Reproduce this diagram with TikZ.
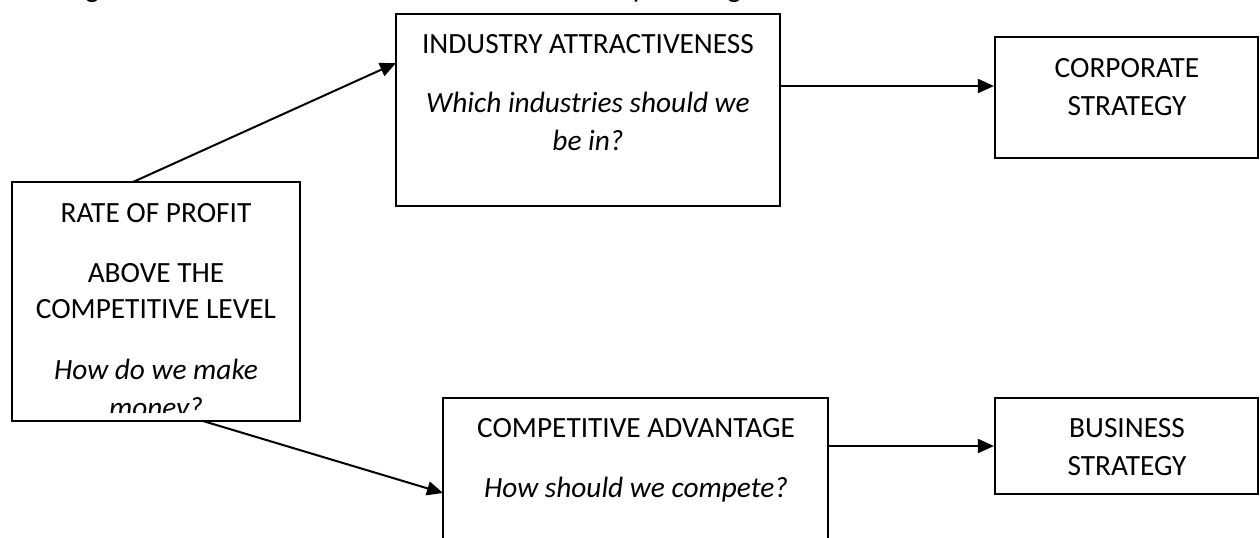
\documentclass[tikz,border=0pt]{standalone}
\usepackage{fontspec}
\setmainfont{Carlito}
\usetikzlibrary{arrows.meta,fit}
\begin{document}
\begin{tikzpicture}[x=0.75pt,y=-0.75pt,
  box/.style={draw, line width=1.6pt, inner sep=0pt, rectangle},
  lbl/.style={anchor=base, inner sep=0pt, font=\fontsize{22}{28.5}\selectfont},
  ilbl/.style={anchor=base, inner sep=0pt, font=\fontsize{22}{28.5}\selectfont\itshape},
  arr/.style={line width=1.5pt, -{Triangle[length=12pt,width=10.5pt]}}]
\useasboundingbox (0,0) rectangle (1260,537);
\clip (0,0) rectangle (1260,537);

% cut-off text fragments at the top edge (as in the reference)
\node[lbl, anchor=base west] (fragA) at (85,-3) {g};
\node[lbl, anchor=base west] (fragB) at (631,-3) {y};
\node[lbl, anchor=base west] (fragC) at (727,-3) {g};

% boxes
\node[box, fit={(12,182) (300,421)}] (rate) {};
\node[box, fit={(396,14) (780,206)}] (ind) {};
\node[box, fit={(995,37) (1258,158)}] (corp) {};
\node[box, fit={(443,398) (828,580)}] (comp) {};
\node[box, fit={(995,398) (1258,494)}] (bus) {};

% rate box text (clipped at the bottom)
\begin{scope}
\clip (12,182) rectangle (300,412);
\node[lbl] (r1) at (156,222) {RATE OF PROFIT};
\node[lbl] (r2) at (156,282) {ABOVE THE};
\node[lbl] (r3) at (156,318) {COMPETITIVE LEVEL};
\node[ilbl] (r4) at (156,379) {How do we make};
\node[ilbl] (r5) at (156,417) {money?};
\end{scope}

% industry text
\node[lbl] (i1) at (588,53) {INDUSTRY ATTRACTIVENESS};
\node[ilbl] (i2) at (588,112) {Which industries should we};
\node[ilbl] (i3) at (588,150) {be in?};

% corporate text
\node[lbl] (c1) at (1127,77) {CORPORATE};
\node[lbl] (c2) at (1127,115) {STRATEGY};

% competitive text
\node[lbl] (k1) at (636,437) {COMPETITIVE ADVANTAGE};
\node[ilbl] (k2) at (636,497) {How should we compete?};

% business text
\node[lbl] (b1) at (1127,437) {BUSINESS};
\node[lbl] (b2) at (1127,475) {STRATEGY};

% connector end points
\coordinate (a1s) at (133,182);
\coordinate (a1e) at (396,63);
\coordinate (a2s) at (203,421);
\coordinate (a2e) at (443,493);
\coordinate (y1) at (0,86);
\coordinate (y2) at (0,446);

\draw[arr] (a1s) -- (a1e);
\draw[arr] (a2s) -- (a2e);
\draw[arr] (ind.east |- y1) -- (corp.west |- y1);
\draw[arr] (comp.east |- y2) -- (bus.west |- y2);
\end{tikzpicture}
\end{document}
